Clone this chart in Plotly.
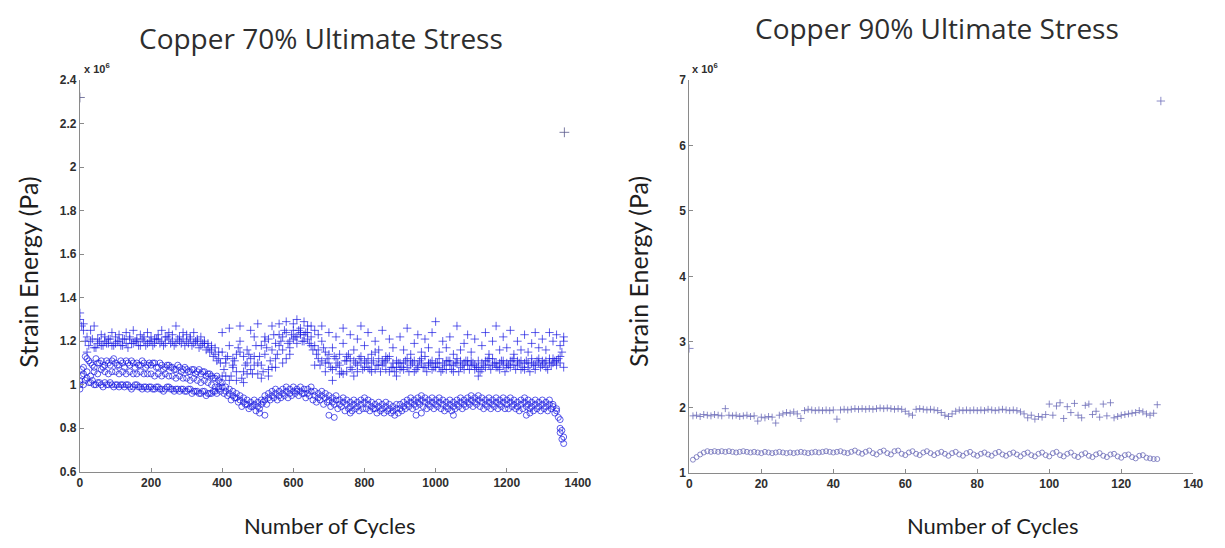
import plotly.graph_objects as go

# ---------------- Left panel: Copper 70% (values in 1e6 Pa) ----------------
cycles_10 = list(range(0, 1370, 10))          # sampled cycle numbers 0..1360
cycles_5 = list(range(5, 1365, 10))           # interleaved samples 5..1355
cycles_early = list(range(0, 400, 10))        # 0..390
cycles_early5 = list(range(5, 400, 10))       # 5..395
cycles_late = list(range(400, 1370, 10))      # 400..1360

plus_main = [
    1.30, 1.25, 1.15, 1.20, 1.17, 1.19, 1.18, 1.20, 1.19, 1.18,
    1.19, 1.20, 1.18, 1.19, 1.21, 1.19, 1.20, 1.18, 1.20, 1.19,
    1.20, 1.19, 1.21, 1.20, 1.19, 1.21, 1.20, 1.19, 1.20, 1.21,
    1.20, 1.21, 1.19, 1.20, 1.18, 1.19, 1.17, 1.16, 1.14, 1.12,
    1.15, 1.10, 1.18, 1.08, 1.14, 1.20, 1.06, 1.16, 1.12, 1.22,
    1.10, 1.18, 1.14, 1.21, 1.08, 1.19, 1.23, 1.16, 1.24, 1.20,
    1.25, 1.22, 1.26, 1.23, 1.27, 1.22, 1.18, 1.12, 1.20, 1.15,
    1.10, 1.17, 1.08, 1.14, 1.19, 1.06, 1.12, 1.16, 1.09, 1.13,
    1.08, 1.12, 1.06, 1.15, 1.09, 1.11, 1.07, 1.13, 1.10, 1.08,
    1.10, 1.07, 1.12, 1.09, 1.11, 1.08, 1.10, 1.13, 1.09, 1.11,
    1.08, 1.12, 1.10, 1.07, 1.11, 1.09, 1.12, 1.08, 1.10, 1.11,
    1.09, 1.07, 1.11, 1.10, 1.08, 1.12, 1.09, 1.10, 1.07, 1.11,
    1.10, 1.08, 1.12, 1.09, 1.11, 1.07, 1.10, 1.12, 1.09, 1.10,
    1.11, 1.08, 1.12, 1.10, 1.09, 1.13, 1.08,
]
plus_main_b = [
    1.27, 1.20, 1.18, 1.21, 1.17, 1.20, 1.18, 1.19, 1.21, 1.18,
    1.20, 1.18, 1.21, 1.17, 1.19, 1.20, 1.18, 1.21, 1.18, 1.20,
    1.18, 1.21, 1.19, 1.18, 1.22, 1.19, 1.18, 1.21, 1.19, 1.18,
    1.19, 1.18, 1.20, 1.17, 1.19, 1.16, 1.15, 1.13, 1.11, 1.10,
    1.07, 1.13, 1.04, 1.11, 1.17, 1.03, 1.09, 1.14, 1.05, 1.18,
    1.13, 1.06, 1.17, 1.11, 1.23, 1.14, 1.20, 1.25, 1.19, 1.23,
    1.22, 1.25, 1.20, 1.24, 1.19, 1.16, 1.14, 1.09, 1.17, 1.12,
    1.08, 1.13, 1.10, 1.06, 1.11, 1.14, 1.07, 1.10, 1.12, 1.07,
    1.10, 1.07, 1.11, 1.09, 1.06, 1.10, 1.12, 1.08, 1.06, 1.10,
    1.08, 1.11, 1.06, 1.10, 1.07, 1.11, 1.08, 1.06, 1.10, 1.08,
    1.10, 1.06, 1.09, 1.11, 1.07, 1.10, 1.06, 1.09, 1.11, 1.07,
    1.10, 1.08, 1.06, 1.09, 1.11, 1.07, 1.10, 1.08, 1.11, 1.06,
    1.09, 1.11, 1.07, 1.10, 1.08, 1.11, 1.06, 1.09, 1.11, 1.08,
    1.10, 1.07, 1.09, 1.11, 1.12, 1.15,
]
plus_scatter = [
    1.33, 1.28, 1.22, 1.25, 1.27, 1.21, 1.23, 1.22, 1.21, 1.24,
    1.22, 1.23, 1.21, 1.24, 1.22, 1.25, 1.21, 1.23, 1.22, 1.24,
    1.22, 1.21, 1.23, 1.25, 1.22, 1.24, 1.23, 1.27, 1.22, 1.24,
    1.23, 1.22, 1.24, 1.21, 1.22, 1.20, 1.19, 1.18, 1.17, 1.15,
    1.24, 1.04, 1.26, 1.12, 1.02, 1.27, 1.13, 1.05, 1.25, 1.09,
    1.28, 1.03, 1.22, 1.07, 1.27, 1.12, 1.28, 1.10, 1.29, 1.14,
    1.28, 1.30, 1.24, 1.29, 1.21, 1.27, 1.25, 1.23, 1.27, 1.06,
    1.24, 1.02, 1.22, 1.05, 1.26, 1.11, 1.23, 1.04, 1.21, 1.27,
    1.18, 1.24, 1.14, 1.20, 1.16, 1.25, 1.13, 1.21, 1.17, 1.04,
    1.22, 1.16, 1.26, 1.14, 1.19, 1.23, 1.15, 1.21, 1.17, 1.24,
    1.29, 1.15, 1.20, 1.17, 1.22, 1.14, 1.27, 1.16, 1.19, 1.23,
    1.15, 1.21, 1.04, 1.18, 1.24, 1.14, 1.20, 1.27, 1.16, 1.22,
    1.17, 1.25, 1.14, 1.20, 1.16, 1.23, 1.15, 1.19, 1.24, 1.17,
    1.21, 1.16, 1.24, 1.20, 1.23, 1.18, 1.22,
]
plus_mid = [
    1.04, 1.12, 1.02, 1.09, 1.06, 1.15, 1.01, 1.10, 1.07, 1.13,
    1.05, 1.09, 1.20, 1.04, 1.16, 1.08, 1.18, 1.22, 1.12, 1.17,
    1.21, 1.19, 1.23, 1.20, 1.24, 1.18, 1.09, 1.16, 1.11, 1.10,
    1.14, 1.07, 1.12, 1.09, 1.05, 1.13, 1.08, 1.11, 1.06, 1.10,
    1.11, 1.08, 1.10, 1.07, 1.12, 1.09, 1.11, 1.06, 1.08, 1.11,
    1.07, 1.10, 1.08, 1.11, 1.06, 1.09, 1.12, 1.08, 1.10, 1.07,
    1.10, 1.08, 1.07, 1.11, 1.09, 1.06, 1.10, 1.11, 1.07, 1.09,
    1.11, 1.09, 1.08, 1.07, 1.11, 1.09, 1.12, 1.08, 1.10, 1.09,
    1.08, 1.11, 1.09, 1.11, 1.07, 1.10, 1.08, 1.10, 1.07, 1.12,
    1.09, 1.11, 1.10, 1.12, 1.11, 1.10, 1.20,
]
circ_upper = [
    1.00, 1.05, 1.12, 1.10, 1.08, 1.10, 1.11, 1.09, 1.10, 1.11,
    1.10, 1.09, 1.10, 1.11, 1.09, 1.10, 1.10, 1.09, 1.10, 1.09,
    1.09, 1.10, 1.08, 1.09, 1.08, 1.09, 1.08, 1.07, 1.08, 1.07,
    1.07, 1.06, 1.07, 1.06, 1.05, 1.06, 1.05, 1.04, 1.03, 1.02,
]
circ_upper_b = [
    1.07, 1.13, 1.11, 1.09, 1.12, 1.10, 1.08, 1.11, 1.09, 1.12,
    1.09, 1.11, 1.08, 1.10, 1.11, 1.08, 1.09, 1.11, 1.08, 1.10,
    1.10, 1.08, 1.10, 1.07, 1.09, 1.08, 1.07, 1.09, 1.06, 1.08,
    1.06, 1.07, 1.05, 1.07, 1.06, 1.04, 1.05, 1.03, 1.04, 1.01,
]
circ_mid = [
    1.02, 1.08, 1.06, 1.04, 1.06, 1.05, 1.07, 1.06, 1.05, 1.06,
    1.06, 1.05, 1.06, 1.05, 1.06, 1.05, 1.05, 1.06, 1.05, 1.05,
    1.05, 1.04, 1.05, 1.04, 1.05, 1.04, 1.04, 1.03, 1.04, 1.03,
    1.03, 1.02, 1.03, 1.02, 1.01, 1.02, 1.01, 1.00, 0.99, 0.99,
]
circ_low = [
    0.98, 1.00, 1.03, 1.01, 1.00, 1.01, 1.00, 1.01, 1.00, 1.00,
    1.00, 0.99, 1.00, 1.00, 0.99, 0.99, 1.00, 0.99, 0.99, 0.98,
    0.99, 0.98, 0.99, 0.98, 0.98, 0.99, 0.98, 0.98, 0.97, 0.98,
    0.97, 0.98, 0.97, 0.97, 0.96, 0.97, 0.96, 0.96, 0.97, 0.98,
    0.99, 0.97, 0.96, 0.95, 0.94, 0.93, 0.92, 0.91, 0.90, 0.91,
    0.90, 0.91, 0.93, 0.94, 0.95, 0.96, 0.95, 0.96, 0.97, 0.96,
    0.97, 0.98, 0.97, 0.98, 0.96, 0.97, 0.95, 0.94, 0.95, 0.94,
    0.93, 0.92, 0.93, 0.91, 0.92, 0.91, 0.90, 0.91, 0.90, 0.91,
    0.92, 0.91, 0.90, 0.89, 0.90, 0.89, 0.90, 0.89, 0.88, 0.89,
    0.89, 0.90, 0.91, 0.92, 0.91, 0.92, 0.93, 0.92, 0.91, 0.92,
    0.91, 0.92, 0.91, 0.90, 0.91, 0.90, 0.91, 0.92, 0.91, 0.92,
    0.93, 0.92, 0.93, 0.92, 0.91, 0.92, 0.91, 0.92, 0.91, 0.92,
    0.91, 0.92, 0.91, 0.90, 0.91, 0.92, 0.91, 0.90, 0.91, 0.90,
    0.91, 0.90, 0.91, 0.90, 0.88, 0.84, 0.76,
]
circ_low_b = [
    1.04, 1.02, 1.01, 1.02, 1.00, 1.01, 0.99, 1.00, 1.01, 0.99,
    1.00, 1.00, 0.99, 1.00, 0.98, 1.00, 0.99, 0.98, 0.99, 0.99,
    0.98, 0.99, 0.98, 0.97, 0.99, 0.98, 0.97, 0.98, 0.98, 0.97,
    0.98, 0.96, 0.97, 0.96, 0.97, 0.95, 0.96, 0.97, 0.96, 0.97,
    0.96, 0.95, 0.93, 0.94, 0.92, 0.90, 0.91, 0.89, 0.90, 0.88,
    0.89, 0.92, 0.91, 0.93, 0.94, 0.93, 0.94, 0.95, 0.94, 0.95,
    0.96, 0.95, 0.96, 0.94, 0.95, 0.93, 0.92, 0.93, 0.91, 0.92,
    0.90, 0.91, 0.89, 0.90, 0.88, 0.89, 0.88, 0.89, 0.88, 0.89,
    0.89, 0.88, 0.89, 0.87, 0.88, 0.87, 0.88, 0.87, 0.86, 0.87,
    0.88, 0.89, 0.90, 0.89, 0.90, 0.91, 0.90, 0.89, 0.90, 0.89,
    0.90, 0.89, 0.88, 0.89, 0.88, 0.89, 0.90, 0.89, 0.90, 0.91,
    0.90, 0.91, 0.90, 0.89, 0.90, 0.89, 0.90, 0.89, 0.90, 0.89,
    0.89, 0.90, 0.89, 0.88, 0.89, 0.90, 0.89, 0.88, 0.89, 0.88,
    0.89, 0.88, 0.89, 0.87, 0.85, 0.79,
]
circ_low2 = [
    1.01, 0.99, 0.98, 0.97, 0.96, 0.95, 0.94, 0.93, 0.92, 0.93,
    0.92, 0.93, 0.95, 0.96, 0.97, 0.98, 0.97, 0.98, 0.99, 0.98,
    0.99, 0.97, 0.99, 0.96, 0.98, 0.99, 0.97, 0.96, 0.97, 0.96,
    0.95, 0.94, 0.95, 0.93, 0.94, 0.93, 0.92, 0.93, 0.92, 0.93,
    0.94, 0.93, 0.92, 0.91, 0.92, 0.91, 0.92, 0.91, 0.90, 0.91,
    0.91, 0.92, 0.93, 0.94, 0.93, 0.94, 0.95, 0.94, 0.93, 0.94,
    0.93, 0.94, 0.93, 0.92, 0.93, 0.92, 0.93, 0.94, 0.93, 0.94,
    0.95, 0.94, 0.95, 0.94, 0.93, 0.94, 0.93, 0.94, 0.93, 0.94,
    0.93, 0.94, 0.93, 0.92, 0.93, 0.94, 0.93, 0.92, 0.93, 0.92,
    0.93, 0.92, 0.93, 0.91, 0.89, 0.80, 0.73,
]
circ_out_cycles = [505, 520, 700, 715, 760, 945, 960, 1050, 1255, 1265, 1350, 1355]
circ_out_values = [0.87, 0.86, 0.86, 0.85, 0.87, 0.86, 0.87, 0.86, 0.86, 0.87, 0.78, 0.75]
plus_out_cycles = [0, 1362]
plus_out_values = [2.32, 2.16]

# ---------------- Right panel: Copper 90% (values in 1e6 Pa) ----------------
cycles_r = list(range(1, 131))
plus_r = [
    1.87, 1.88, 1.86, 1.89, 1.88, 1.87, 1.89, 1.88, 1.87, 1.98,
    1.88, 1.87, 1.88, 1.86, 1.87, 1.88, 1.86, 1.87, 1.79, 1.85,
    1.84, 1.86, 1.85, 1.76, 1.88, 1.90, 1.92, 1.91, 1.93, 1.90,
    1.83, 1.95, 1.97, 1.96, 1.95, 1.96, 1.95, 1.96, 1.95, 1.96,
    1.82, 1.96, 1.97, 1.96, 1.97, 1.98, 1.97, 1.98, 1.97, 1.98,
    1.97, 1.98, 1.99, 1.98, 1.99, 1.98, 1.97, 1.98, 1.97, 1.94,
    1.90, 1.88, 1.97, 1.98, 1.97, 1.96, 1.97, 1.96, 1.95, 1.92,
    1.88, 1.86, 1.90, 1.94, 1.96, 1.95, 1.96, 1.95, 1.96, 1.95,
    1.96, 1.95, 1.97, 1.96, 1.95, 1.96, 1.97, 1.96, 1.95, 1.96,
    1.95, 1.93, 1.90, 1.84, 1.88, 1.82, 1.86, 1.85, 1.89, 2.05,
    1.88, 2.02, 2.07, 1.83, 2.01, 1.92, 2.06, 1.88, 1.84, 2.03,
    2.05, 1.89, 1.94, 1.85, 2.05, 1.87, 2.07, 1.84, 1.86, 1.88,
    1.89, 1.90, 1.91, 1.92, 1.95, 1.93, 1.90, 1.88, 1.91, 2.04,
]
circ_r = [
    1.20, 1.24, 1.28, 1.31, 1.33, 1.32, 1.33, 1.32, 1.33, 1.32,
    1.33, 1.32, 1.31, 1.32, 1.33, 1.32, 1.31, 1.32, 1.31, 1.30,
    1.32, 1.31, 1.30, 1.31, 1.32, 1.31, 1.30, 1.31, 1.30, 1.31,
    1.32, 1.31, 1.30, 1.31, 1.32, 1.31, 1.32, 1.33, 1.32, 1.31,
    1.32, 1.33, 1.31, 1.30, 1.32, 1.34, 1.31, 1.29, 1.32, 1.34,
    1.30, 1.28, 1.32, 1.34, 1.30, 1.28, 1.33, 1.34, 1.29, 1.27,
    1.31, 1.33, 1.29, 1.27, 1.31, 1.33, 1.30, 1.27, 1.30, 1.32,
    1.29, 1.26, 1.30, 1.32, 1.28, 1.26, 1.30, 1.32, 1.28, 1.26,
    1.29, 1.31, 1.28, 1.26, 1.30, 1.32, 1.28, 1.26, 1.29, 1.31,
    1.28, 1.25, 1.29, 1.31, 1.27, 1.25, 1.29, 1.31, 1.27, 1.25,
    1.30, 1.32, 1.27, 1.25, 1.29, 1.31, 1.26, 1.24, 1.28, 1.30,
    1.26, 1.24, 1.28, 1.30, 1.26, 1.24, 1.28, 1.29, 1.25, 1.23,
    1.27, 1.28, 1.24, 1.22, 1.26, 1.27, 1.23, 1.22, 1.21, 1.21,
]
plus_r_out_cycles = [0, 131]
plus_r_out_values = [2.90, 6.68]

# ---------------- styling ----------------
BLUE = "rgba(25,25,225,0.7)"
BLUE_R = "rgba(110,110,185,0.8)"
AX = "#8a8a8a"
TXT = "#2e2e2e"

fig = go.Figure()

def add(x, y, sym, color, size, xa="x", ya="y"):
    fig.add_trace(go.Scatter(
        x=x, y=y, mode="markers", xaxis=xa, yaxis=ya, showlegend=False,
        marker=dict(symbol=sym, size=size, color=color,
                    line=dict(width=1, color=color)),
    ))

# left panel
add(cycles_early, circ_upper, "circle-open", BLUE, 6)
add(cycles_early5, circ_upper_b, "circle-open", BLUE, 6)
add(cycles_early, circ_mid, "circle-open", BLUE, 6)
add(cycles_10, circ_low, "circle-open", BLUE, 6)
add(cycles_5, circ_low_b, "circle-open", BLUE, 6)
add(cycles_late, circ_low2, "circle-open", BLUE, 6)
add(circ_out_cycles, circ_out_values, "circle-open", BLUE, 6)
add(cycles_10, plus_main, "cross-thin-open", BLUE, 6)
add(cycles_5, plus_main_b, "cross-thin-open", BLUE, 6)
add(cycles_10, plus_scatter, "cross-thin-open", BLUE, 6)
add(cycles_late, plus_mid, "cross-thin-open", BLUE, 6)
add(plus_out_cycles, plus_out_values, "cross-thin-open", "rgba(90,90,140,0.8)", 7)

# right panel
add(cycles_r, circ_r, "circle-open", BLUE_R, 5, "x2", "y2")
add(cycles_r, plus_r, "cross-thin-open", BLUE_R, 5, "x2", "y2")
add(plus_r_out_cycles, plus_r_out_values, "cross-thin-open", BLUE_R, 6, "x2", "y2")

W, H = 1225, 548
def px(x):
    return x / W
def py(y):
    return 1 - y / H

tickfont = dict(family="Liberation Sans, Arial", size=12, color=TXT, weight="bold")
axcommon = dict(showgrid=False, zeroline=False, showline=True, linecolor=AX, linewidth=1,
                ticks="inside", ticklen=4, tickcolor=AX, tickfont=tickfont, mirror=False)

fig.update_layout(
    width=W, height=H, margin=dict(l=0, r=0, t=0, b=0),
    paper_bgcolor="white", plot_bgcolor="white",
    xaxis=dict(domain=[px(78), px(583)], range=[0, 1400], tickvals=[0, 200, 400, 600, 800, 1000, 1200, 1400],
               anchor="y", **axcommon),
    yaxis=dict(domain=[py(477), py(75)], range=[0.6, 2.4],
               tickvals=[0.6, 0.8, 1, 1.2, 1.4, 1.6, 1.8, 2, 2.2, 2.4],
               ticktext=["0.6", "0.8", "1", "1.2", "1.4", "1.6", "1.8", "2", "2.2", "2.4"],
               anchor="x", **axcommon),
    xaxis2=dict(domain=[px(696), px(1207)], range=[0, 140], tickvals=[0, 20, 40, 60, 80, 100, 120, 140],
                anchor="y2", **axcommon),
    yaxis2=dict(domain=[py(478), py(75)], range=[1, 7], tickvals=[1, 2, 3, 4, 5, 6, 7],
                anchor="x2", **axcommon),
)

titlefont = dict(family="Open Sans", size=28, color=TXT)
xlabfont = dict(family="Lato", size=22, color="#1e1e1e")
ylabfont = dict(family="Lato", size=25, color="#1e1e1e")
expfont = dict(family="Liberation Sans, Arial", size=11, color=TXT, weight="bold")

ann = [
    dict(x=px(322), y=py(32), text="Copper 70% Ultimate Stress", font=titlefont),
    dict(x=px(947), y=py(22), text="Copper 90% Ultimate Stress", font=titlefont),
    dict(x=px(331), y=py(532), text="Number of Cycles", font=xlabfont),
    dict(x=px(1003), y=py(532), text="Number of Cycles", font=xlabfont),
    dict(x=px(25), y=py(272), text="Strain Energy (Pa)", font=ylabfont, textangle=-90),
    dict(x=px(644), y=py(272), text="Strain Energy (Pa)", font=ylabfont, textangle=-90),
    dict(x=px(80), y=py(63), text="x 10<sup>6</sup>", font=expfont, xanchor="left"),
    dict(x=px(697), y=py(63), text="x 10<sup>6</sup>", font=expfont, xanchor="left"),
]
for a in ann:
    a.setdefault("xanchor", "center")
    a.update(xref="paper", yref="paper", showarrow=False, yanchor="middle")
    fig.add_annotation(**a)

fig.write_html("out.html")
